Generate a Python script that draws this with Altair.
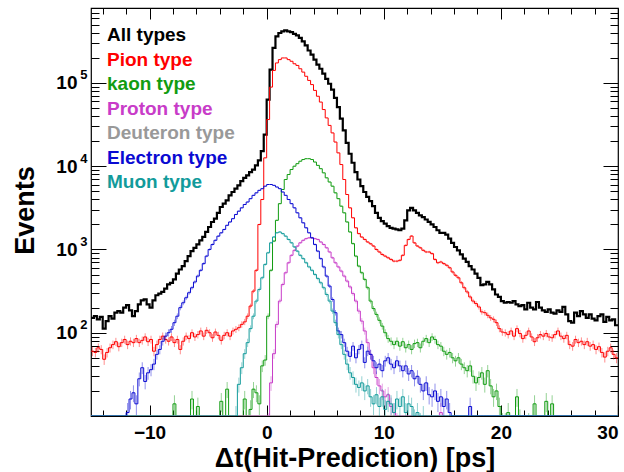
import altair as alt
import pandas as pd

# ---- binning: 180 bins of 0.25 ps from -15 to 30 (left edges) ----
X_LO, X_HI, BW = -15.0, 30.0, 0.25
bin_left = [round(X_LO + BW * i, 2) for i in range(180)]

# ---- counts per bin, 8 bins (2 ps) per row ----
all_types = [
    151, 158, 145, 155, 112, 138, 158, 148,          # -15 .. -13
    174, 182, 174, 200, 214, 186, 158, 182,          # -13 .. -11
    219, 245, 251, 219, 200, 245, 282, 295,          # -11 .. -9
    309, 339, 380, 398, 437, 513, 575, 631,          # -9 .. -7
    724, 832, 955, 1047, 1148, 1288, 1413, 1622,     # -7 .. -5
    1862, 2138, 2344, 2754, 3236, 3548, 3890, 4467,  # -5 .. -3
    4898, 5370, 5888, 6607, 7244, 7762, 8511, 9120,  # -3 .. -1
    10230, 11750, 15140, 23990, 63100, 144500, 263000, 363000,  # -1 .. 1
    398000, 417000, 427000, 417000, 407000, 389000, 372000, 347000,  # 1 .. 3
    316000, 282000, 245000, 219000, 191000, 166000, 148000, 129000,  # 3 .. 5
    112000, 97700, 83200, 66100, 51300, 37200, 26900, 19100,  # 5 .. 7
    14100, 11000, 8510, 6920, 5750, 4900, 4270, 3800,  # 7 .. 9
    3310, 2750, 2400, 2190, 2040, 1910, 1820, 1780,  # 9 .. 11
    1740, 1700, 1780, 2240, 2950, 3160, 2950, 2750,  # 11 .. 13
    2570, 2450, 2290, 2140, 2000, 1860, 1700, 1580,  # 13 .. 15
    1580, 1510, 1350, 1200, 1070, 977, 871, 776,     # 15 .. 17
    708, 631, 575, 513, 457, 372, 380, 407,          # 17 .. 19
    380, 331, 288, 269, 240, 229, 234, 229,          # 19 .. 21
    240, 219, 209, 214, 191, 229, 200, 191,          # 21 .. 23
    234, 200, 186, 178, 191, 174, 170, 186,          # 23 .. 25
    178, 204, 166, 138, 132, 174, 158, 182,          # 25 .. 27
    166, 151, 166, 148, 141, 158, 166, 135,          # 27 .. 29
    155, 141, 145, 123,                              # 29 .. 30
]

pion = [
    60, 58, 66, 63, 48, 58, 66, 72,
    78, 68, 76, 83, 72, 79, 76, 85,
    76, 81, 89, 78, 83, 60, 72, 83,
    91, 83, 79, 89, 76, 83, 63, 79,
    91, 85, 100, 89, 95, 105, 91, 107,
    100, 87, 102, 93, 81, 93, 100, 91,
    105, 110, 115, 126, 135, 158, 209, 316,
    562, 1995, 3981, 12590, 36310, 89100, 141300, 173800,
    190500, 199500, 199500, 190500, 182000, 169800, 162200, 147900,
    134900, 120200, 107200, 95500, 81300, 69200, 58900, 47900,
    38000, 30900, 25100, 19500, 14450, 10470, 6920, 4570,
    3160, 2400, 1820, 1550, 1410, 1320, 1230, 1170,
    1100, 1000, 933, 871, 832, 794, 759, 724,
    724, 741, 851, 1120, 1320, 1450, 1200, 1100,
    1047, 977, 933, 933, 891, 759, 692, 708,
    676, 646, 603, 537, 490, 457, 398, 347,
    309, 269, 240, 224, 204, 178, 174, 162,
    151, 145, 132, 112, 102, 100, 95, 105,
    91, 112, 98, 85, 93, 105, 89, 78,
    87, 95, 91, 98, 89, 87, 95, 105,
    91, 85, 93, 72, 69, 83, 76, 79,
    72, 78, 69, 72, 63, 68, 58, 51,
    60, 66, 55, 50,
]

kaon = [
    0, 0, 0, 0, 0, 0, 0, 0,
    0, 0, 0, 0, 0, 0, 0, 0,
    0, 0, 0, 0, 0, 0, 0, 0,
    0, 0, 0, 0, 14, 0, 0, 0,
    0, 0, 16, 0, 13, 0, 0, 0,
    0, 0, 0, 0, 15, 0, 21, 0,
    0, 0, 0, 0, 16, 0, 12, 21,
    19, 14, 40, 47, 158, 562, 1259, 2239,
    3548, 5248, 6918, 7943, 9120, 10000, 10720, 11480,
    12020, 12300, 12300, 12020, 11220, 10230, 9333, 8318,
    7244, 6457, 5754, 4786, 4074, 3311, 2754, 2138,
    1622, 1175, 832, 631, 525, 437, 347, 240,
    195, 166, 141, 120, 100, 85, 79, 72,
    79, 69, 78, 66, 72, 63, 74, 76,
    66, 79, 85, 76, 89, 83, 72, 69,
    60, 55, 58, 50, 46, 50, 42, 38,
    35, 40, 30, 25, 29, 33, 24, 35,
    23, 17, 20, 13, 8, 8, 11, 6,
    0, 17, 9, 0, 0, 8, 0, 14,
    0, 0, 0, 15, 0, 14, 0, 0,
    0, 0, 0, 0, 0, 0, 0, 0,
    0, 0, 0, 0, 0, 0, 0, 0,
    0, 0, 0, 0,
]

proton = [
    0, 0, 0, 0, 0, 0, 0, 0,
    0, 0, 0, 0, 0, 0, 0, 0,
    0, 0, 0, 0, 0, 0, 0, 0,
    0, 0, 0, 0, 0, 0, 0, 0,
    0, 0, 0, 0, 0, 0, 0, 0,
    0, 0, 0, 0, 0, 0, 0, 0,
    0, 0, 0, 0, 0, 0, 0, 0,
    0, 0, 0, 0, 8, 25, 56, 126,
    240, 380, 525, 692, 851, 977, 1096, 1202,
    1288, 1349, 1380, 1380, 1349, 1318, 1230, 1148,
    1047, 933, 794, 692, 617, 550, 479, 417,
    355, 295, 240, 182, 138, 105, 76, 55,
    38, 29, 23, 20, 17, 18, 13, 11,
    8, 0, 0, 0, 0, 0, 0, 0,
    0, 0, 0, 0, 0, 0, 0, 11,
    0, 0, 0, 0, 0, 0, 0, 0,
    0, 0, 0, 0, 0, 0, 0, 0,
    0, 0, 0, 0, 0, 0, 0, 0,
    0, 0, 0, 0, 0, 0, 0, 0,
    0, 0, 0, 0, 0, 0, 0, 0,
    0, 0, 0, 0, 0, 0, 0, 0,
    0, 0, 0, 0, 0, 0, 0, 0,
    0, 0, 0, 0,
]

deuteron = [
    0, 0, 0, 0, 0, 0, 0, 0, 0, 0, 0, 0, 0, 0, 0, 0, 0, 0, 0, 0,
    0, 0, 0, 0, 0, 0, 0, 0, 0, 0, 0, 0, 0, 0, 0, 0, 0, 0, 0, 0,
    0, 0, 0, 0, 0, 0, 0, 0, 0, 0, 0, 0, 0, 0, 0, 0, 0, 0, 0, 0,
    0, 0, 0, 0, 0, 0, 0, 0, 0, 0, 0, 0, 0, 0, 0, 0, 0, 0, 0, 0,
    0, 0, 0, 0, 0, 0, 0, 0, 0, 0, 0, 0, 0, 0, 0, 0, 0, 0, 0, 0,
    0, 0, 0, 0, 0, 0, 0, 0, 0, 0, 0, 0, 0, 0, 0, 0, 0, 0, 0, 0,
    0, 0, 0, 0, 0, 0, 0, 0, 0, 0, 0, 0, 0, 0, 0, 0, 0, 0, 0, 0,
    0, 0, 0, 0, 0, 0, 0, 0, 0, 0, 0, 0, 0, 0, 0, 0, 0, 0, 0, 0,
    0, 0, 0, 0, 0, 0, 0, 0, 0, 0, 0, 0, 0, 0, 0, 0, 0, 0, 0, 0,
]

electron = [
    0, 0, 0, 0, 0, 0, 0, 0,
    0, 0, 0, 0, 11, 16, 19, 14,
    28, 38, 26, 33, 36, 42, 55, 63,
    79, 91, 100, 110, 132, 158, 200, 229,
    263, 302, 347, 407, 479, 562, 676, 832,
    1000, 1148, 1288, 1445, 1585, 1738, 1950, 2138,
    2344, 2630, 2884, 3162, 3467, 3715, 4074, 4467,
    4786, 5129, 5370, 5754, 6026, 6026, 5888, 5623,
    5370, 4898, 4467, 3981, 3548, 3162, 2754, 2399,
    2089, 1820, 1585, 1380, 1148, 955, 776, 617,
    479, 363, 251, 174, 105, 95, 76, 60,
    52, 69, 50, 63, 72, 44, 60, 55,
    46, 38, 42, 35, 46, 50, 42, 38,
    46, 40, 35, 40, 32, 35, 28, 30,
    24, 20, 25, 18, 17, 20, 15, 17,
    13, 16, 11, 0, 0, 0, 0, 0,
    0, 13, 0, 0, 0, 0, 0, 0,
    0, 0, 0, 0, 0, 0, 0, 0,
    0, 0, 0, 0, 0, 0, 0, 0,
    0, 0, 0, 0, 0, 0, 0, 0,
    0, 0, 0, 0, 0, 0, 0, 0,
    0, 0, 0, 0, 0, 0, 0, 0,
    0, 0, 0, 0,
]

muon = [
    0, 0, 0, 0, 0, 0, 0, 0,
    0, 0, 0, 0, 0, 0, 0, 0,
    0, 0, 0, 0, 0, 0, 0, 0,
    0, 0, 0, 0, 0, 0, 0, 0,
    0, 0, 0, 0, 0, 0, 0, 0,
    0, 0, 0, 0, 0, 0, 0, 0,
    0, 10, 24, 38, 56, 76, 112, 158,
    240, 331, 457, 661, 912, 1202, 1413, 1585,
    1622, 1549, 1445, 1318, 1202, 1072, 955, 851,
    776, 692, 617, 562, 501, 447, 398, 347,
    288, 240, 182, 132, 95, 72, 55, 42,
    33, 29, 24, 22, 25, 20, 23, 17,
    14, 18, 13, 17, 12, 15, 14, 11,
    16, 13, 17, 11, 14, 13, 9, 11,
    8, 10, 0, 0, 0, 0, 0, 0,
    0, 0, 0, 0, 0, 0, 0, 0,
    0, 0, 0, 0, 0, 0, 0, 0,
    0, 0, 0, 0, 0, 0, 0, 0,
    0, 0, 0, 0, 0, 0, 0, 0,
    0, 0, 0, 0, 0, 0, 0, 0,
    0, 0, 0, 0, 0, 0, 0, 0,
    0, 0, 0, 0, 0, 0, 0, 0,
    0, 0, 0, 0,
]

names = ["All types", "Pion type", "kaon type", "Proton type",
         "Deuteron type", "Electron type", "Muon type"]
colors = ["#000000", "#ff0000", "#119c11", "#c83cc8", "#999999", "#0a0ad2", "#129b9b"]
widths = [2.2, 1, 1, 1, 1, 1, 1]
series = [all_types, pion, kaon, proton, deuteron, electron, muon]
for s in series:
    assert len(s) == 180

x_major = [-10, 0, 10, 20, 30]
x_minor = [-14, -12, -8, -6, -4, -2, 2, 4, 6, 8, 12, 14, 16, 18, 22, 24, 26, 28]
y_major = [10, 100, 1000, 10000, 100000]
y_labelled = [100, 1000, 10000, 100000]
y_minor = [m * 10 ** k for k in range(1, 6) for m in range(2, 10) if m * 10 ** k < 7.9e5]

FONT = "Liberation Sans"
xscale = alt.Scale(domain=[X_LO, X_HI], nice=False, zero=False)
yscale = alt.Scale(type="log", domain=[10, 7.94e5], nice=False)


def tick_axis(orient, values, size):
    return alt.Axis(orient=orient, values=values, ticks=True, tickSize=size,
                    tickColor="black", tickWidth=1, labels=False, domain=False,
                    offset=-size, title=None, grid=False)


x_axes = [
    alt.Axis(orient="bottom", values=x_major, ticks=False, tickSize=0, domain=False,
             labelFont=FONT, labelFontWeight="bold", labelFontSize=19, labelColor="black",
             labelPadding=7, title="Δt(Hit-Prediction) [ps]", titleFont=FONT,
             titleFontWeight="bold", titleFontSize=27, titleColor="black",
             titleY=50, titleBaseline="alphabetic", grid=False),
    tick_axis("bottom", x_major, 11),
    tick_axis("bottom", x_minor, 6),
    tick_axis("top", x_major, 11),
    tick_axis("top", x_minor, 6),
    None, None,
]
y_axes = [
    # mantissa "10"
    alt.Axis(orient="left", values=y_labelled, ticks=False, tickSize=0, domain=False,
             labelExpr="'10'",
             labelFont=FONT, labelFontWeight="bold", labelFontSize=19, labelColor="black",
             labelPadding=14, title="Events", titleFont=FONT, titleFontWeight="bold",
             titleFontSize=27, titleColor="black", titleAngle=270, titleX=-58, titleY=202,
             titleBaseline="alphabetic", titleAlign="center", grid=False),
    tick_axis("left", y_major, 15),
    tick_axis("left", y_minor, 8),
    tick_axis("right", y_major, 15),
    tick_axis("right", y_minor, 8),
    # exponent, raised
    alt.Axis(orient="left", values=y_labelled, ticks=False, tickSize=0, domain=False,
             labelExpr="'' + round(log(datum.value) / LN10)",
             labelFont=FONT, labelFontWeight="bold", labelFontSize=13, labelColor="black",
             labelPadding=4, labelOffset=-8, title=None, grid=False),
    None,
]

layers = []
for i, (name, vals, col, w) in enumerate(zip(names, series, colors, widths)):
    df = pd.DataFrame({"x": bin_left + [X_HI], "c": list(vals) + [vals[-1]]})
    base = alt.Chart(df)
    if i > 0 and name != "Deuteron type":
        err = base.transform_filter("datum.c > 0 && datum.x < 30").transform_calculate(
            xc="datum.x + 0.125",
            lo="max(datum.c - sqrt(datum.c), 10)",
            hi="datum.c + sqrt(datum.c)",
        ).mark_rule(color=col, opacity=0.45, strokeWidth=1, clip=True).encode(
            x=alt.X("xc:Q", scale=xscale, axis=None),
            y=alt.Y("lo:Q", scale=yscale, axis=None),
            y2="hi:Q",
        )
        layers.append(err)
    line = base.transform_calculate(v="max(datum.c, 10)").mark_line(
        interpolate="step-after", color=col, strokeWidth=w, clip=True
    ).encode(
        x=alt.X("x:Q", scale=xscale, axis=x_axes[i]),
        y=alt.Y("v:Q", scale=yscale, axis=y_axes[i]),
    )
    layers.append(line)

legend_df = pd.DataFrame({"label": names})
legend = alt.Chart(legend_df).mark_text(
    align="left", baseline="alphabetic", font=FONT, fontWeight="bold", fontSize=19
).encode(
    x=alt.value(16),
    y=alt.Y("label:N", sort=names, axis=None,
            scale=alt.Scale(type="point", range=[33, 180], padding=0)),
    text="label:N",
    color=alt.Color("label:N", scale=alt.Scale(domain=names, range=colors), legend=None),
)
layers.append(legend)

chart = alt.layer(*layers).resolve_scale(y="independent").resolve_axis(
    x="independent", y="independent"
).properties(
    width=527, height=408,
    autosize=alt.AutoSizeParams(type="none"),
    padding={"left": 91, "top": 8, "right": 6, "bottom": 56},
    background="white",
).configure_view(stroke="black", strokeWidth=1.2)

chart.save("out.html", embed_options={"renderer": "svg", "actions": False})
